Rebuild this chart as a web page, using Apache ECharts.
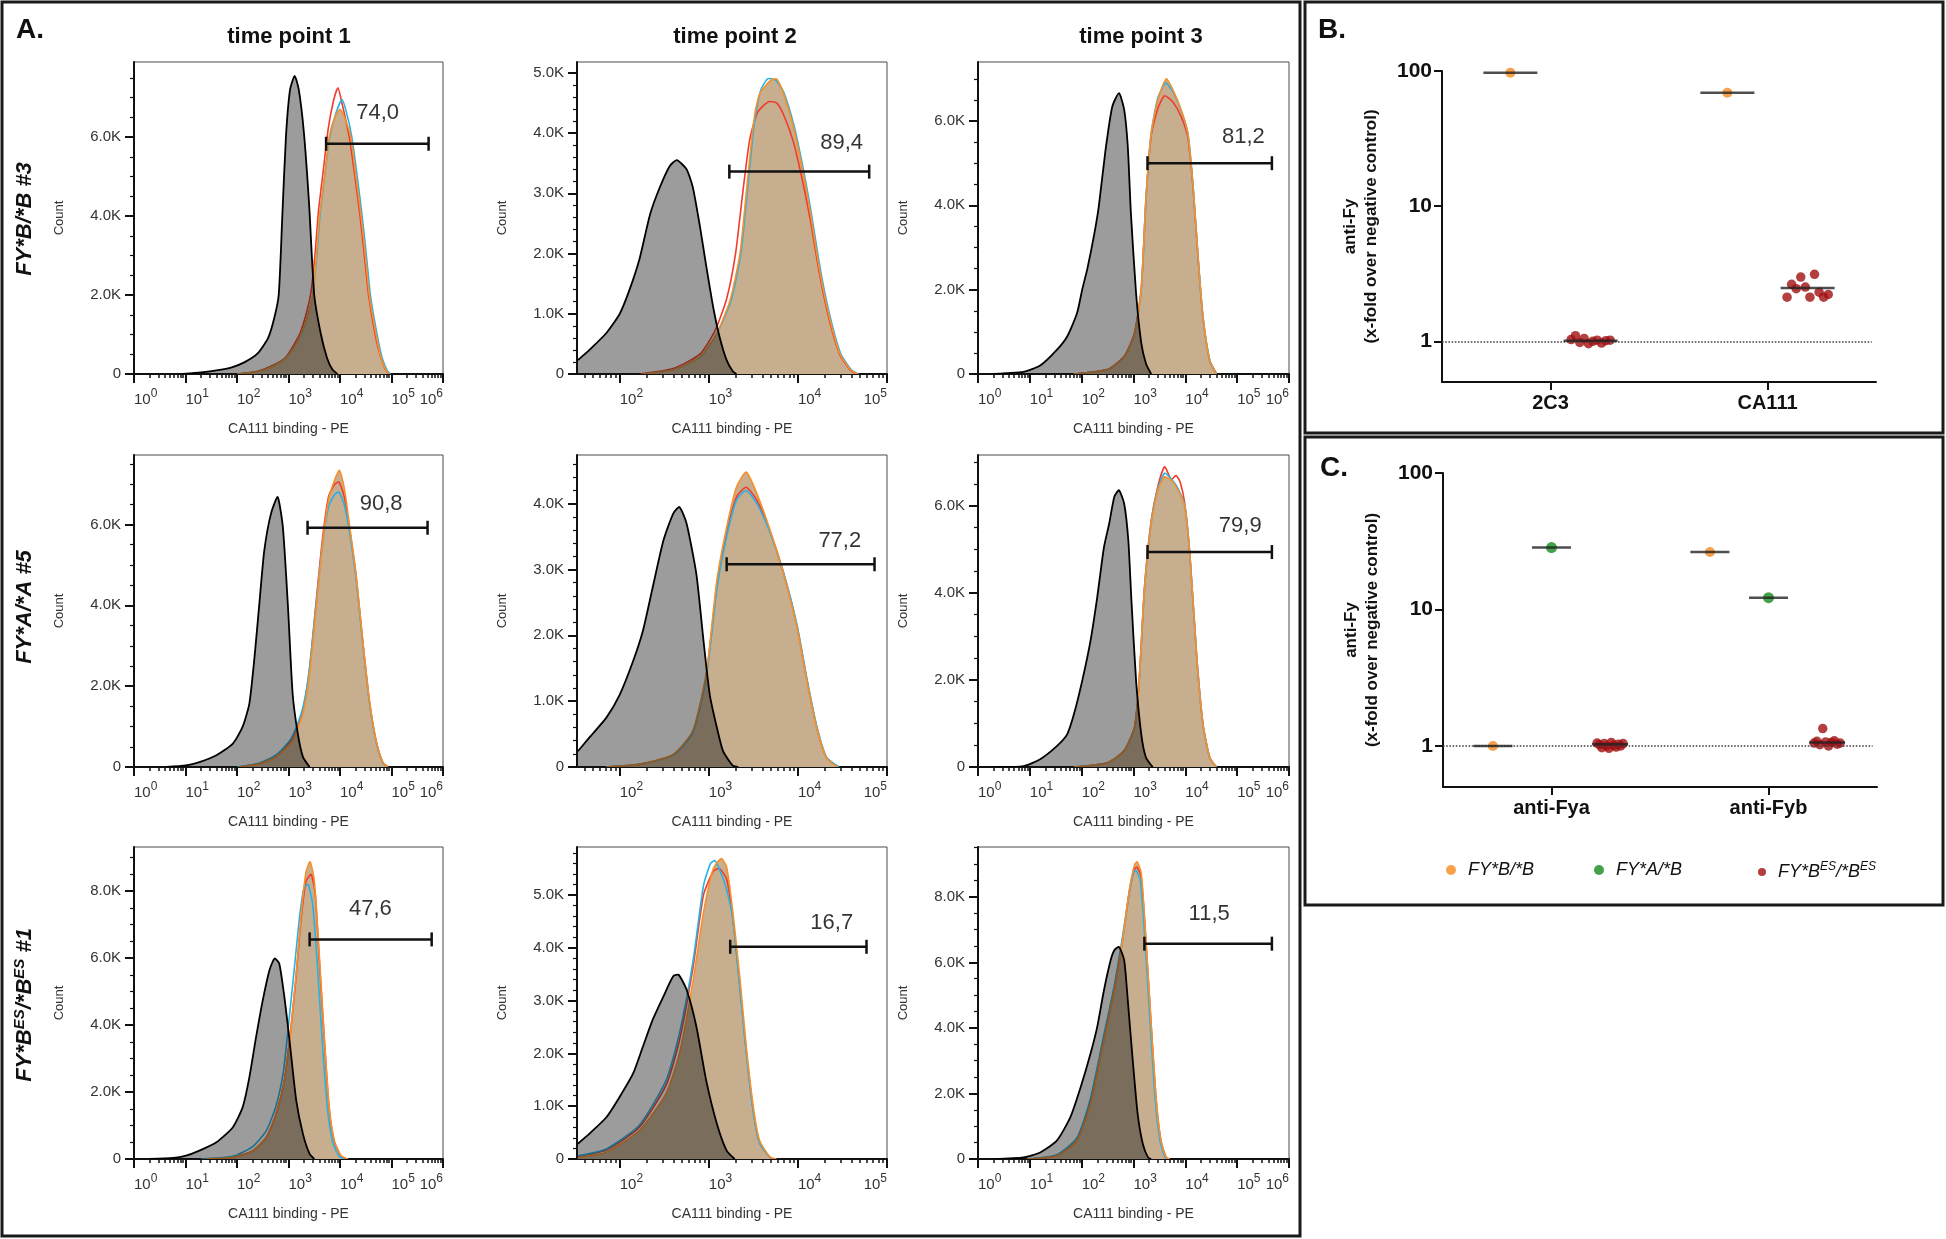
<!DOCTYPE html>
<html><head><meta charset="utf-8">
<script src="https://cdn.jsdelivr.net/npm/echarts@6/dist/echarts.min.js"></script>
<style>html,body{margin:0;padding:0;background:#fff}#c{width:1946px;height:1239px}</style>
</head><body><div id="c"></div>
<script>
// ================= DATA =================
// Panel A: flow cytometry histograms. x = log10(CA111 binding - PE), y = count
const timePoints = ['time point 1', 'time point 2', 'time point 3'];

// Row 1: FY*B/*B #3
const r1c1Neg = [[0.95,0],[1.3,40],[1.6,90],[1.9,170],[2.15,300],[2.4,520],[2.6,900],[2.72,1400],[2.81,2000],[2.88,4000],[2.95,6000],[3.03,7200],[3.12,7550],[3.2,7200],[3.3,6100],[3.4,4300],[3.5,2000],[3.63,1000],[3.75,400],[3.85,120],[3.95,0]];
const r1c1Orange = [[2.0,0],[2.4,60],[2.7,190],[2.95,400],[3.12,700],[3.24,1000],[3.38,1500],[3.47,2000],[3.54,3000],[3.6,4000],[3.7,5000],[3.79,6000],[3.9,6500],[4.0,6700],[4.1,6450],[4.21,6000],[4.31,5000],[4.41,4000],[4.5,2900],[4.57,2000],[4.7,1000],[4.8,400],[4.9,80],[4.96,0]];
const r1c1Red = [[2.0,0],[2.4,70],[2.7,220],[2.95,430],[3.1,730],[3.23,1050],[3.36,1600],[3.44,2100],[3.52,3100],[3.58,4100],[3.68,5200],[3.77,6200],[3.87,6900],[3.96,7250],[4.04,6850],[4.18,6000],[4.29,5000],[4.39,4000],[4.49,2800],[4.56,1950],[4.69,950],[4.8,380],[4.9,70],[4.95,0]];
const r1c1Blue = [[2.0,0],[2.4,60],[2.7,200],[2.95,410],[3.12,700],[3.25,1000],[3.38,1500],[3.47,2000],[3.55,3000],[3.61,4000],[3.71,5100],[3.8,6000],[3.92,6600],[4.04,6950],[4.12,6650],[4.23,6000],[4.33,5050],[4.43,4000],[4.52,2900],[4.59,2000],[4.72,1000],[4.82,400],[4.92,80],[4.98,0]];

const r1c2Neg = [[1.53,230],[1.66,400],[1.85,680],[2.0,1000],[2.11,1400],[2.22,1900],[2.34,2650],[2.45,3100],[2.56,3450],[2.64,3550],[2.75,3400],[2.82,3100],[2.9,2450],[2.97,1800],[3.05,1100],[3.12,620],[3.2,230],[3.27,40],[3.31,0]];
const r1c2Orange = [[2.26,0],[2.6,70],[2.9,290],[3.09,680],[3.24,1230],[3.35,2000],[3.42,3000],[3.5,4150],[3.57,4650],[3.69,4870],[3.76,4900],[3.84,4650],[3.95,4100],[4.06,3330],[4.14,2670],[4.25,1670],[4.36,900],[4.47,340],[4.59,70],[4.67,0]];
const r1c2Red = [[2.23,0],[2.6,90],[2.9,330],[3.07,720],[3.2,1250],[3.3,2000],[3.38,3000],[3.46,3900],[3.55,4350],[3.67,4520],[3.76,4500],[3.84,4300],[3.95,3850],[4.06,3150],[4.14,2550],[4.25,1600],[4.36,850],[4.47,320],[4.59,60],[4.66,0]];
const r1c2Blue = [[2.26,0],[2.6,70],[2.9,280],[3.09,670],[3.25,1220],[3.36,2000],[3.43,3000],[3.51,4150],[3.58,4700],[3.66,4900],[3.75,4880],[3.84,4680],[3.96,4100],[4.07,3330],[4.15,2670],[4.26,1670],[4.37,900],[4.48,340],[4.6,70],[4.68,0]];

const r1c3Neg = [[0.3,0],[0.55,20],[0.88,50],[1.2,200],[1.52,570],[1.72,890],[1.91,1440],[2.01,2000],[2.11,2500],[2.24,3300],[2.33,3970],[2.46,5310],[2.59,6340],[2.72,6660],[2.82,6270],[2.89,5390],[2.95,3810],[3.05,1910],[3.15,730],[3.24,250],[3.34,0]];
const r1c3Orange = [[1.85,0],[2.5,100],[2.82,400],[3.02,960],[3.15,2000],[3.24,4130],[3.34,5700],[3.47,6500],[3.63,7000],[3.76,6740],[3.92,6260],[4.05,5700],[4.15,4440],[4.25,2700],[4.34,1360],[4.47,330],[4.6,0]];
const r1c3Red = [[1.85,0],[2.5,110],[2.82,420],[3.02,980],[3.15,2050],[3.24,4150],[3.34,5650],[3.47,6300],[3.6,6600],[3.76,6450],[3.92,6100],[4.05,5600],[4.15,4400],[4.25,2680],[4.34,1340],[4.47,320],[4.6,0]];
const r1c3Blue = [[1.85,0],[2.5,100],[2.82,400],[3.02,950],[3.15,1980],[3.24,4100],[3.34,5700],[3.47,6550],[3.62,6900],[3.76,6700],[3.92,6250],[4.05,5700],[4.15,4450],[4.25,2700],[4.34,1360],[4.47,330],[4.6,0]];

// Row 2: FY*A/*A #5
const r2c1Neg = [[0.63,0],[1.01,40],[1.27,120],[1.6,290],[1.92,580],[2.11,1000],[2.24,1570],[2.34,2720],[2.44,4130],[2.53,5360],[2.66,6270],[2.79,6680],[2.89,5940],[2.99,3960],[3.08,1820],[3.18,830],[3.28,250],[3.41,0]];
const r2c1Orange = [[2.05,0],[2.44,80],[2.76,250],[3.08,660],[3.28,1320],[3.41,2310],[3.54,3960],[3.67,5610],[3.79,6680],[3.92,7180],[3.99,7340],[4.09,6850],[4.18,6020],[4.31,4790],[4.44,3140],[4.57,1650],[4.7,660],[4.83,120],[4.93,0]];
const r2c1Red = [[2.05,0],[2.44,85],[2.76,260],[3.07,680],[3.27,1350],[3.4,2350],[3.53,4000],[3.66,5650],[3.78,6700],[3.9,7000],[3.98,7050],[4.08,6700],[4.18,5950],[4.31,4750],[4.44,3120],[4.57,1640],[4.7,650],[4.83,115],[4.93,0]];
const r2c1Blue = [[2.0,0],[2.44,100],[2.76,300],[3.05,700],[3.26,1380],[3.4,2350],[3.53,3950],[3.66,5500],[3.78,6450],[3.9,6750],[3.98,6800],[4.08,6500],[4.18,5850],[4.31,4700],[4.44,3100],[4.57,1620],[4.7,640],[4.83,110],[4.93,0]];

const r2c2Neg = [[1.53,240],[1.66,450],[1.85,750],[2.0,1100],[2.15,1610],[2.26,2070],[2.37,2730],[2.49,3440],[2.6,3850],[2.67,3950],[2.75,3700],[2.86,2930],[2.94,1920],[3.01,1100],[3.09,600],[3.16,240],[3.27,20],[3.33,0]];
const r2c2Orange = [[1.85,0],[2.22,40],[2.6,190],[2.82,550],[2.97,1410],[3.09,2830],[3.2,3640],[3.31,4250],[3.42,4480],[3.54,4150],[3.69,3590],[3.84,2930],[3.99,2120],[4.1,1310],[4.21,600],[4.32,140],[4.44,0]];
const r2c2Red = [[1.85,0],[2.22,40],[2.6,185],[2.82,530],[2.97,1380],[3.09,2750],[3.2,3550],[3.31,4100],[3.42,4250],[3.54,4050],[3.69,3570],[3.84,2940],[3.99,2140],[4.1,1330],[4.21,610],[4.32,145],[4.45,0]];
const r2c2Blue = [[1.85,0],[2.22,40],[2.6,180],[2.82,520],[2.97,1350],[3.09,2700],[3.2,3500],[3.31,4050],[3.42,4200],[3.54,4000],[3.69,3550],[3.84,2950],[3.99,2160],[4.1,1350],[4.21,630],[4.32,150],[4.46,0]];

const r2c3Neg = [[0.3,0],[0.88,20],[1.2,180],[1.52,480],[1.72,750],[1.85,1210],[2.01,1980],[2.17,2900],[2.3,3900],[2.43,5050],[2.53,5590],[2.63,6210],[2.72,6360],[2.82,6050],[2.9,5210],[2.96,3830],[3.05,1980],[3.15,750],[3.24,220],[3.37,0]];
const r2c3Orange = [[1.85,0],[2.5,100],[2.82,370],[3.02,910],[3.11,1980],[3.21,4060],[3.34,5590],[3.47,6360],[3.6,6670],[3.73,6590],[3.86,6360],[3.99,5980],[4.09,4820],[4.22,2520],[4.34,980],[4.47,220],[4.6,0]];
const r2c3Red = [[1.85,0],[2.5,100],[2.82,380],[3.02,920],[3.11,2000],[3.21,4100],[3.34,5650],[3.47,6450],[3.6,6900],[3.73,6600],[3.82,6700],[3.9,6550],[3.99,6050],[4.09,4850],[4.22,2530],[4.34,990],[4.47,220],[4.6,0]];
const r2c3Blue = [[1.85,0],[2.5,100],[2.82,370],[3.02,900],[3.11,1960],[3.21,4050],[3.34,5600],[3.47,6400],[3.6,6750],[3.73,6620],[3.86,6400],[3.99,6000],[4.09,4830],[4.22,2520],[4.34,980],[4.47,220],[4.6,0]];

// Row 3: FY*B^ES/*B^ES #1
const r3c1Neg = [[0.3,0],[0.76,30],[1.01,100],[1.27,250],[1.6,500],[1.92,950],[2.11,1550],[2.24,2440],[2.37,3640],[2.5,4740],[2.63,5640],[2.73,5990],[2.82,5840],[2.92,4840],[3.02,3540],[3.15,1750],[3.28,750],[3.41,150],[3.5,0]];
const r3c1Orange = [[1.4,0],[1.92,50],[2.31,250],[2.57,650],[2.76,1350],[2.92,2340],[3.05,3940],[3.15,5540],[3.24,7230],[3.34,8580],[3.42,8880],[3.5,8330],[3.6,6030],[3.7,3540],[3.79,1550],[3.89,550],[4.02,100],[4.15,0]];
const r3c1Red = [[1.4,0],[1.92,50],[2.31,250],[2.57,650],[2.76,1350],[2.92,2350],[3.05,3950],[3.15,5500],[3.24,7100],[3.34,8300],[3.44,8500],[3.52,7900],[3.6,5900],[3.7,3450],[3.79,1500],[3.89,520],[4.02,90],[4.12,0]];
const r3c1Blue = [[1.3,0],[1.92,80],[2.31,380],[2.57,850],[2.76,1600],[2.9,2600],[3.0,4000],[3.12,5800],[3.22,7300],[3.3,8100],[3.38,8200],[3.47,7600],[3.56,5800],[3.66,3400],[3.76,1450],[3.86,500],[3.98,80],[4.1,0]];

const r3c2Neg = [[1.53,290],[1.66,480],[1.85,790],[2.0,1180],[2.15,1620],[2.26,2130],[2.37,2640],[2.49,3080],[2.6,3460],[2.66,3490],[2.75,3210],[2.86,2510],[2.97,1490],[3.09,670],[3.2,160],[3.29,0]];
const r3c2Orange = [[1.53,30],[1.85,130],[2.22,540],[2.52,1240],[2.67,2000],[2.82,3340],[2.94,4670],[3.05,5500],[3.14,5690],[3.2,5530],[3.27,4670],[3.35,3400],[3.42,2130],[3.5,980],[3.57,350],[3.69,30],[3.76,0]];
const r3c2Red = [[1.53,50],[1.85,170],[2.22,600],[2.52,1400],[2.67,2250],[2.82,3600],[2.94,5000],[3.05,5450],[3.12,5500],[3.2,5300],[3.27,4550],[3.35,3250],[3.42,2050],[3.5,900],[3.57,310],[3.69,25],[3.75,0]];
const r3c2Blue = [[1.53,60],[1.85,190],[2.22,640],[2.52,1490],[2.67,2380],[2.82,3720],[2.94,5180],[3.02,5600],[3.07,5650],[3.14,5400],[3.2,5100],[3.27,4540],[3.35,3210],[3.42,2000],[3.5,880],[3.57,300],[3.69,25],[3.74,0]];

const r3c3Neg = [[0.3,0],[0.88,50],[1.2,200],[1.52,560],[1.78,1270],[1.98,2190],[2.17,3210],[2.3,4030],[2.43,5150],[2.56,6070],[2.63,6370],[2.72,6470],[2.82,6070],[2.89,4840],[2.98,3110],[3.08,1380],[3.18,460],[3.28,50],[3.34,0]];
const r3c3Orange = [[0.94,0],[1.52,100],[1.91,560],[2.17,1680],[2.43,3620],[2.63,5150],[2.79,6680],[2.92,8210],[3.02,8970],[3.07,9070],[3.15,8720],[3.24,6680],[3.34,4130],[3.44,1780],[3.53,560],[3.63,50],[3.7,0]];
const r3c3Red = [[0.94,0],[1.52,110],[1.91,580],[2.17,1720],[2.43,3650],[2.63,5180],[2.79,6700],[2.92,8150],[3.02,8850],[3.07,8900],[3.15,8600],[3.24,6650],[3.34,4100],[3.44,1760],[3.53,550],[3.63,50],[3.69,0]];
const r3c3Blue = [[0.94,0],[1.52,130],[1.91,650],[2.17,1850],[2.43,3800],[2.63,5300],[2.79,6800],[2.92,8150],[3.0,8750],[3.05,8800],[3.13,8500],[3.22,6700],[3.32,4150],[3.42,1800],[3.51,560],[3.61,50],[3.68,0]];

// Gates: [start log10, end log10, count level], percentage label, label anchor [log10, count]
const gateRanges = [[3.73,5.72,5830],[3.23,4.8,3360],[3.27,5.67,5000],[3.37,5.70,5920],[3.2,4.86,3080],[3.27,5.67,4940],[3.41,5.78,6560],[3.24,4.77,4020],[3.21,5.67,6570]];
const gatePercent = ['74,0','89,4','81,2','90,8','77,2','79,9','47,6','16,7','11,5'];
const gateLabelAt = [[4.73,6600],[4.49,3830],[5.12,5630],[4.8,6520],[4.47,3440],[5.06,5550],[4.59,7480],[4.38,4480],[4.46,7490]];

// Axis extents
const countAxisMax = [7900,5180,7400,7720,4740,7170,9320,5910,9520];
const countAxisStep = [2000,1000,2000,2000,1000,2000,2000,1000,2000];
const logAxisRange = [[0,6],[1.52,5],[0,6]];

// Panel B: anti-Fy, x-fold over negative control
const bCategories = ['2C3', 'CA111'];
const bFyBB = [97, 69];
const bFyBES_2C3 = [1.03, 1.10, 0.98, 1.05, 0.96, 1.0, 1.02, 0.97, 1.01, 1.02];
const bFyBES_CA111 = [2.12, 2.64, 2.45, 2.99, 2.52, 2.12, 3.13, 2.31, 2.12, 2.22];
const bLineFyBB = [97, 69];
const bLineFyBES = [1.01, 2.48];

// Panel C
const cCategories = ['anti-Fya', 'anti-Fyb'];
const cFyBB = [1.0, 26.4];
const cFyAB = [28.4, 12.2];
const cFyBES_Fya = [1.05, 1.02, 0.97, 1.04, 1.0, 0.96, 1.06, 1.01, 0.98, 1.03, 1.0, 1.04];
const cFyBES_Fyb = [1.05, 1.08, 1.02, 1.34, 1.07, 1.0, 1.06, 1.09, 1.03, 1.05];
const cLineFyBB = [1.0, 26.4];
const cLineFyAB = [28.4, 12.2];
const cLineFyBES = [1.03, 1.06];

// ================= BUILD =================
const FONT = 'Arial, "Liberation Sans", Helvetica, sans-serif';
const panels = [
  [r1c1Neg, r1c1Orange, r1c1Red, r1c1Blue],
  [r1c2Neg, r1c2Orange, r1c2Red, r1c2Blue],
  [r1c3Neg, r1c3Orange, r1c3Red, r1c3Blue],
  [r2c1Neg, r2c1Orange, r2c1Red, r2c1Blue],
  [r2c2Neg, r2c2Orange, r2c2Red, r2c2Blue],
  [r2c3Neg, r2c3Orange, r2c3Red, r2c3Blue],
  [r3c1Neg, r3c1Orange, r3c1Red, r3c1Blue],
  [r3c2Neg, r3c2Orange, r3c2Red, r3c2Blue],
  [r3c3Neg, r3c3Orange, r3c3Red, r3c3Blue]
];
const colLeft = [134, 577, 978], colWidth = [309, 310, 311], rowTop = [62, 455, 847], plotH = 312;

// grey negative-control fill is a translucent dark layer drawn over the tan sample fill,
// so the overlap turns dark brown-grey as in the FlowJo overlay.
const C_GREY_OVER = 'rgba(18,18,18,0.42)', C_TAN = '#c6ae8f', C_ORANGE = '#f7902a', C_RED = '#f23a2e', C_BLUE = '#27b2e4';
const DOT_ORANGE = '#f5891f', DOT_GREEN = '#138a1c', DOT_RED = '#a10f12';

function logMinor(lo, hi) {
  const out = [];
  for (let d = Math.floor(lo); d < hi; d++) for (let k = 2; k <= 9; k++) {
    const v = d + Math.log10(k); if (v > lo && v < hi) out.push(v);
  }
  return out;
}
function logMajor(lo, hi) { const out = []; for (let d = Math.ceil(lo); d <= hi + 1e-9; d++) out.push(d); return out; }

function areaSeries(i, data, fill, stroke) {
  return {
    type: 'custom', xAxisIndex: 2 * i, yAxisIndex: i, data: data, clip: true, silent: true,
    renderItem: function (params, api) {
      if (params.dataIndex !== 0) return null;
      const pts = [];
      if (data[0][1] !== 0) pts.push(api.coord([data[0][0], 0]));
      data.forEach(d => pts.push(api.coord(d)));
      const last = data[data.length - 1];
      if (last[1] !== 0) pts.push(api.coord([last[0], 0]));
      return { type: 'polygon', shape: { points: pts, smooth: 0.2 },
        style: { fill: fill, stroke: stroke || 'none', lineWidth: 1.8 } };
    }
  };
}
function lineSeries(i, data, color, width) {
  return {
    type: 'custom', xAxisIndex: 2 * i, yAxisIndex: i, data: data, clip: true, silent: true,
    renderItem: function (params, api) {
      if (params.dataIndex !== 0) return null;
      const pts = data.map(d => api.coord(d));
      return { type: 'polyline', shape: { points: pts, smooth: 0.2 }, style: { fill: 'none', stroke: color, lineWidth: width || 1.6 } };
    }
  };
}

const grid = [], xAxis = [], yAxis = [], series = [];
panels.forEach((p, i) => {
  const r = Math.floor(i / 3), c = i % 3;
  const [lo, hi] = logAxisRange[c];
  grid.push({ left: colLeft[c], top: rowTop[r], width: colWidth[c], height: plotH, show: true, borderColor: '#4a4a4a', borderWidth: 1, backgroundColor: 'transparent' });
  const majors = logMajor(lo, hi);
  xAxis.push({
    type: 'value', gridIndex: i, min: lo, max: hi, position: 'bottom',
    axisLine: { show: true, onZero: false, lineStyle: { color: '#111', width: 2 } },
    axisTick: { show: true, customValues: majors, length: 9, lineStyle: { color: '#111', width: 2 } },
    axisLabel: {
      show: true, customValues: majors, align: 'left', alignMaxLabel: 'right', margin: 14,
      formatter: v => '{b|10}{s|' + Math.round(v) + '}',
      rich: { b: { fontSize: 15, color: '#333', fontFamily: FONT, lineHeight: 17, padding: [6, 0, 0, 0] },
              s: { fontSize: 12, color: '#333', fontFamily: FONT, verticalAlign: 'top', lineHeight: 12 } }
    },
    splitLine: { show: false },
    name: 'CA111 binding - PE', nameLocation: 'middle', nameGap: 48,
    nameTextStyle: { fontSize: 14, color: '#333', fontFamily: FONT }
  });
  xAxis.push({
    type: 'value', gridIndex: i, min: lo, max: hi, position: 'bottom',
    axisLine: { show: false, onZero: false },
    axisTick: { show: true, customValues: logMinor(lo, hi), length: 4, lineStyle: { color: '#111', width: 1.5 } },
    axisLabel: { show: false }, splitLine: { show: false }
  });
  const step = countAxisStep[i];
  const ticks = []; for (let v = 0; v <= countAxisMax[i]; v += step) ticks.push(v);
  yAxis.push({
    type: 'value', gridIndex: i, min: 0, max: countAxisMax[i], interval: step,
    axisLine: { show: true, onZero: false, lineStyle: { color: '#111', width: 2 } },
    axisTick: { show: true, customValues: ticks, length: 9, lineStyle: { color: '#111', width: 2 } },
    minorTick: { show: true, splitNumber: step === 2000 ? 4 : 5, length: 4, lineStyle: { color: '#111', width: 1.2 } },
    axisLabel: { customValues: ticks, margin: 13, fontSize: 15, color: '#333', fontFamily: FONT,
      formatter: v => v === 0 ? '0' : (v / 1000).toFixed(1) + 'K' },
    splitLine: { show: false },
    name: 'Count', nameLocation: 'middle', nameRotate: 90, nameGap: 68,
    nameTextStyle: { fontSize: 13, color: '#333', fontFamily: FONT }
  });
  const [neg, orange, red, blue] = p;
  series.push(areaSeries(i, orange, C_TAN, null));
  series.push(lineSeries(i, red, C_RED));
  series.push(lineSeries(i, blue, C_BLUE));
  series.push(lineSeries(i, orange, C_ORANGE));
  series.push(areaSeries(i, neg, C_GREY_OVER, null));
  series.push(lineSeries(i, neg, '#000', 1.8));
  series.push({
    type: 'custom', xAxisIndex: 2 * i, yAxisIndex: i, data: [gateRanges[i]], silent: true,
    encode: { x: [0, 1], y: 2 },
    renderItem: function (params, api) {
      const a = api.coord([api.value(0), api.value(2)]), b = api.coord([api.value(1), api.value(2)]);
      const st = { stroke: '#111', lineWidth: 2.5 };
      return { type: 'group', children: [
        { type: 'line', shape: { x1: a[0], y1: a[1], x2: b[0], y2: b[1] }, style: st },
        { type: 'line', shape: { x1: a[0], y1: a[1] - 7, x2: a[0], y2: a[1] + 7 }, style: st },
        { type: 'line', shape: { x1: b[0], y1: b[1] - 7, x2: b[0], y2: b[1] + 7 }, style: st }
      ] };
    }
  });
  series.push({
    type: 'scatter', xAxisIndex: 2 * i, yAxisIndex: i, data: [gateLabelAt[i]], silent: true,
    symbolSize: 0.1, itemStyle: { color: 'rgba(0,0,0,0)' },
    label: { show: true, position: 'inside', formatter: gatePercent[i], fontSize: 22, color: '#000', fontFamily: FONT }
  });
});

// ---------- Panels B and C ----------
function swarm(values, center, half) {
  const n = values.length;
  return values.map((v, k) => [center + (n > 1 ? (k / (n - 1) - 0.5) * 2 * half : 0), v]);
}
function dotAxes(gi, cats, left, top, height) {
  grid.push({ left: left, top: top, width: 434, height: height });
  xAxis.push({
    type: 'value', gridIndex: gi, min: 0, max: 2, position: 'bottom',
    axisLine: { show: true, onZero: false, lineStyle: { color: '#111', width: 2 } },
    axisTick: { show: true, customValues: [0.5, 1.5], length: 8, lineStyle: { color: '#111', width: 2 } },
    axisLabel: { customValues: [0.5, 1.5], margin: 11, fontSize: 20, fontWeight: 'bold', color: '#111', fontFamily: FONT,
      formatter: v => cats[Math.floor(v)] },
    splitLine: { show: false }
  });
  yAxis.push({
    type: 'log', logBase: 10, gridIndex: gi, min: 0.5, max: 100,
    axisLine: { show: true, onZero: false, lineStyle: { color: '#111', width: 2 } },
    axisTick: { show: true, length: 8, lineStyle: { color: '#111', width: 2 } },
    axisLabel: { showMinLabel: false, margin: 10, fontSize: 21, fontWeight: 'bold', color: '#111', fontFamily: FONT,
      formatter: v => String(Math.round(v)) },
    splitLine: { show: false },
    name: 'anti-Fy\n(x-fold over negative control)', nameLocation: 'middle', nameRotate: 90, nameGap: 60,
    nameTextStyle: { fontSize: 17, fontWeight: 'bold', lineHeight: 21, color: '#111', fontFamily: FONT }
  });
}
dotAxes(9, bCategories, 1442, 71, 311);   // xAxis index 18, yAxis 9
dotAxes(10, cCategories, 1443, 473, 314); // xAxis index 19, yAxis 10
const XB = 18, XC = 19;

const B_OFF = 0.185, C_OFF = 0.27;
const dotted = { silent: true, symbol: 'none', label: { show: false }, lineStyle: { type: 'dotted', color: '#444', width: 1.6 }, data: [[{ coord: [0, 1] }, { coord: [1.98, 1] }]] };
series.push({ type: 'scatter', name: 'FY*B/*B', xAxisIndex: XB, yAxisIndex: 9, data: bFyBB.map((v, g) => [g + 0.5 - B_OFF, v]), symbolSize: 10, itemStyle: { color: DOT_ORANGE }, z: 3, silent: true, markLine: dotted });
series.push({ type: 'scatter', name: 'FY*BES/*BES', xAxisIndex: XB, yAxisIndex: 9,
  data: swarm(bFyBES_2C3, 0.5 + B_OFF, 0.09).concat(swarm(bFyBES_CA111, 1.5 + B_OFF, 0.095)), symbolSize: 9.5, itemStyle: { color: DOT_RED }, z: 3, silent: true });
series.push({ type: 'scatter', xAxisIndex: XB, yAxisIndex: 9, data: bLineFyBB.map((v, g) => [g + 0.5 - B_OFF, v]), symbol: 'rect', symbolSize: [54, 2.5], itemStyle: { color: '#222' }, z: 5, silent: true });
series.push({ type: 'scatter', xAxisIndex: XB, yAxisIndex: 9, data: bLineFyBES.map((v, g) => [g + 0.5 + B_OFF, v]), symbol: 'rect', symbolSize: [54, 2.5], itemStyle: { color: '#222' }, z: 5, silent: true });

series.push({ type: 'scatter', name: 'FY*B/*B', xAxisIndex: XC, yAxisIndex: 10, data: cFyBB.map((v, g) => [g + 0.5 - C_OFF, v]), symbolSize: 10, itemStyle: { color: DOT_ORANGE }, z: 3, silent: true, markLine: dotted });
series.push({ type: 'scatter', name: 'FY*A/*B', xAxisIndex: XC, yAxisIndex: 10, data: cFyAB.map((v, g) => [g + 0.5, v]), symbolSize: 11, itemStyle: { color: DOT_GREEN }, z: 3, silent: true });
series.push({ type: 'scatter', name: 'FY*BES/*BES', xAxisIndex: XC, yAxisIndex: 10,
  data: swarm(cFyBES_Fya, 0.5 + C_OFF, 0.06).concat(swarm(cFyBES_Fyb, 1.5 + C_OFF, 0.06)), symbolSize: 9.5, itemStyle: { color: DOT_RED }, z: 3, silent: true });
series.push({ type: 'scatter', xAxisIndex: XC, yAxisIndex: 10, data: cLineFyBB.map((v, g) => [g + 0.5 - C_OFF, v]), symbol: 'rect', symbolSize: [39, 2.5], itemStyle: { color: '#222' }, z: 5, silent: true });
series.push({ type: 'scatter', xAxisIndex: XC, yAxisIndex: 10, data: cLineFyAB.map((v, g) => [g + 0.5, v]), symbol: 'rect', symbolSize: [39, 2.5], itemStyle: { color: '#222' }, z: 5, silent: true });
series.push({ type: 'scatter', xAxisIndex: XC, yAxisIndex: 10, data: cLineFyBES.map((v, g) => [g + 0.5 + C_OFF, v]), symbol: 'rect', symbolSize: [36, 2.5], itemStyle: { color: '#222' }, z: 5, silent: true });

// ---------- Legends (panel C) ----------
const legRich = {
  i: { fontSize: 18, fontStyle: 'italic', color: '#111', fontFamily: FONT, lineHeight: 22 },
  s: { fontSize: 12, fontStyle: 'italic', color: '#111', fontFamily: FONT, verticalAlign: 'top', lineHeight: 12 }
};
function legend(name, left, size, fmt) {
  return { data: [name], left: left, top: 856, icon: 'circle', itemWidth: size, itemHeight: size, itemGap: 0, selectedMode: false,
    formatter: fmt, textStyle: { fontSize: 18, fontStyle: 'italic', color: '#111', fontFamily: FONT, padding: [0, 0, 0, 7], rich: legRich } };
}
const legends = [
  legend('FY*B/*B', 1441, 10, n => '{i|FY*B/*B}'),
  legend('FY*A/*B', 1589, 10, n => '{i|FY*A/*B}'),
  legend('FY*BES/*BES', 1753, 8, n => '{i|FY*B}{s|ES}{i|/*B}{s|ES}')
];

// ---------- Graphic: panel frames and titles ----------
const boldTitle = { fontSize: 22, fontWeight: 'bold', fill: '#111', fontFamily: FONT, align: 'center', verticalAlign: 'middle' };
const rowLabelStyle = (text, extra) => Object.assign({ text: text, fontSize: 22, fontWeight: 'bold', fontStyle: 'italic', fill: '#111', fontFamily: FONT, align: 'center', verticalAlign: 'middle' }, extra || {});
const graphic = [
  { type: 'rect', shape: { x: 2, y: 2, width: 1298, height: 1234 }, style: { fill: 'none', stroke: '#1a1a1a', lineWidth: 3 }, silent: true },
  { type: 'rect', shape: { x: 1305, y: 2, width: 638, height: 431 }, style: { fill: 'none', stroke: '#1a1a1a', lineWidth: 3 }, silent: true },
  { type: 'rect', shape: { x: 1305, y: 437, width: 638, height: 468 }, style: { fill: 'none', stroke: '#1a1a1a', lineWidth: 3 }, silent: true },
  { type: 'text', x: 30, y: 30, style: { text: 'A.', fontSize: 28, fontWeight: 'bold', fill: '#111', fontFamily: FONT, align: 'center', verticalAlign: 'middle' } },
  { type: 'text', x: 1332, y: 30, style: { text: 'B.', fontSize: 28, fontWeight: 'bold', fill: '#111', fontFamily: FONT, align: 'center', verticalAlign: 'middle' } },
  { type: 'text', x: 1334, y: 468, style: { text: 'C.', fontSize: 28, fontWeight: 'bold', fill: '#111', fontFamily: FONT, align: 'center', verticalAlign: 'middle' } },
  { type: 'text', x: 289, y: 37, style: Object.assign({ text: timePoints[0] }, boldTitle) },
  { type: 'text', x: 735, y: 37, style: Object.assign({ text: timePoints[1] }, boldTitle) },
  { type: 'text', x: 1141, y: 37, style: Object.assign({ text: timePoints[2] }, boldTitle) },
  { type: 'text', x: 25, y: 219, rotation: Math.PI / 2, style: rowLabelStyle('FY*B/*B #3') },
  { type: 'text', x: 25, y: 607, rotation: Math.PI / 2, style: rowLabelStyle('FY*A/*A #5') },
  { type: 'text', x: 25, y: 1005, rotation: Math.PI / 2, style: rowLabelStyle('{a|FY*B}{s|ES}{a|/*B}{s|ES}{a| #1}', {
      rich: { a: { fontSize: 22, fontWeight: 'bold', fontStyle: 'italic', fill: '#111', fontFamily: FONT, lineHeight: 26 },
              s: { fontSize: 15, fontWeight: 'bold', fontStyle: 'italic', fill: '#111', fontFamily: FONT, verticalAlign: 'top', lineHeight: 15 } } }) }
];

const chart = echarts.init(document.getElementById('c'), null, { renderer: 'canvas', width: 1946, height: 1239 });
chart.setOption({
  animation: false,
  backgroundColor: '#ffffff',
  textStyle: { fontFamily: FONT },
  grid: grid, xAxis: xAxis, yAxis: yAxis, series: series,
  legend: legends,
  graphic: graphic
});
</script></body></html>
